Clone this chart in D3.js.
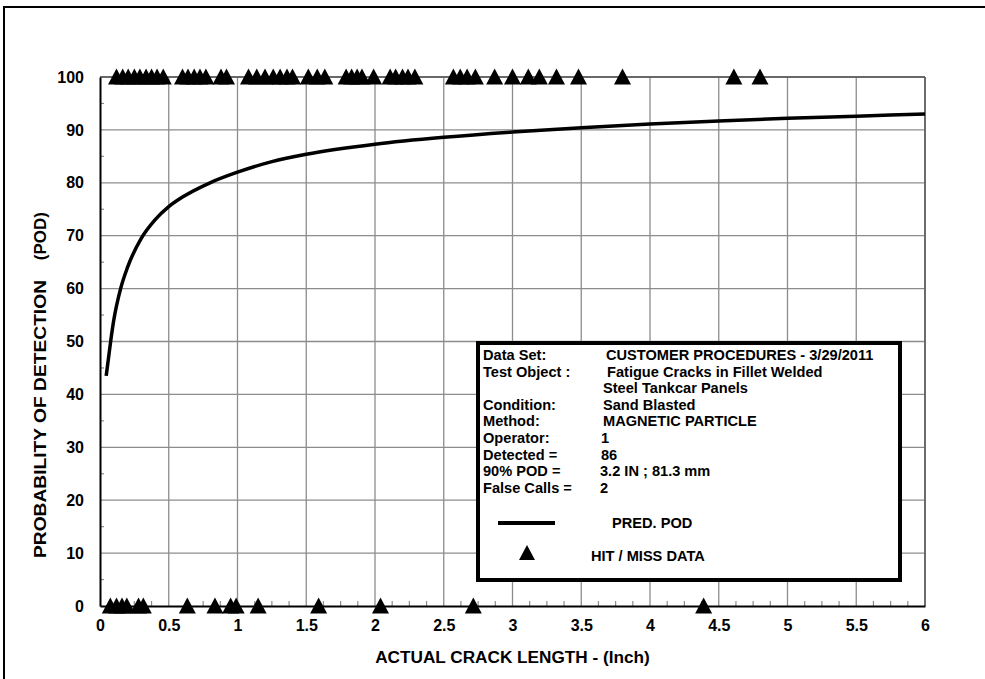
<!DOCTYPE html>
<html>
<head>
<meta charset="utf-8">
<script src="https://cdn.jsdelivr.net/npm/d3@7"></script>
<style>
  html, body { margin: 0; padding: 0; background: #fff; }
  svg { display: block; }
  text { font-family: "Liberation Sans", Arial, sans-serif; font-weight: bold; fill: #000; }
</style>
</head>
<body>
<svg id="chart" width="985" height="679"></svg>
<script>
// ---- data ----
const xTicks = [0, 0.5, 1, 1.5, 2, 2.5, 3, 3.5, 4, 4.5, 5, 5.5, 6];
const xTickLabels = ["0", "0.5", "1", "1.5", "2", "2.5", "3", "3.5", "4", "4.5", "5", "5.5", "6"];
const yTicks = [0, 10, 20, 30, 40, 50, 60, 70, 80, 90, 100];
const yMinorTicks = [5, 15, 25, 35, 45, 55, 65, 75, 85, 95];
const xMinorTicks = [0.125, 0.25, 0.375, 0.625, 0.75, 0.875, 1.125, 1.25, 1.375, 1.625, 1.75, 1.875,
  2.125, 2.25, 2.375, 2.625, 2.75, 2.875, 3.125, 3.25, 3.375, 3.625, 3.75, 3.875,
  4.125, 4.25, 4.375, 4.625, 4.75, 4.875, 5.125, 5.25, 5.375, 5.625, 5.75, 5.875];

// predicted POD curve
const curveX   = [0.045, 0.06, 0.08, 0.1, 0.15, 0.2, 0.3, 0.4, 0.5, 0.6, 0.8, 1.0, 1.25, 1.5, 2.0, 2.5, 3.0, 3.5, 4.0, 4.5, 5.0, 5.5, 6.0];
const curvePOD = [43.5, 46.5, 50.5, 54, 60, 64, 69.5, 73, 75.5, 77.3, 80, 82, 84, 85.4, 87.3, 88.6, 89.6, 90.4, 91.1, 91.7, 92.2, 92.6, 93.0];

// hits (detected, plotted at 100)
const hitX = [0.12, 0.165, 0.205, 0.25, 0.29, 0.335, 0.375, 0.415, 0.46,
  0.60, 0.64, 0.685, 0.727, 0.77, 0.88, 0.92,
  1.08, 1.14, 1.20, 1.26, 1.31, 1.36, 1.40,
  1.515, 1.58, 1.635,
  1.79, 1.83, 1.87, 1.905, 1.99,
  2.11, 2.15, 2.20, 2.24, 2.29,
  2.57, 2.62, 2.67, 2.73, 2.87, 3.0, 3.115, 3.195, 3.32, 3.48, 3.80, 4.61, 4.80];
// misses (plotted at 0)
const missX = [0.075, 0.12, 0.16, 0.195, 0.28, 0.315, 0.635, 0.836, 0.95, 0.99, 1.15, 1.59, 2.04, 2.715, 4.39];

const legendLabels = ["Data Set:", "Test Object :", "", "Condition:", "Method:", "Operator:", "Detected =", "90% POD =", "False Calls ="];
const legendValues = ["CUSTOMER PROCEDURES - 3/29/2011", "Fatigue Cracks in Fillet Welded", "Steel Tankcar Panels", "Sand Blasted", "MAGNETIC PARTICLE", "1", "86", "3.2 IN ; 81.3 mm", "2"];

// ---- drawing ----
const svg = d3.select("#chart");
const plot = { left: 100, right: 925, top: 77, bottom: 606 };
const x = d3.scaleLinear().domain([0, 6]).range([plot.left, plot.right]);
const y = d3.scaleLinear().domain([0, 100]).range([plot.bottom, plot.top]);

// outer frame
svg.append("rect").attr("x", 4).attr("y", 7).attr("width", 1000).attr("height", 700)
  .attr("fill", "none").attr("stroke", "#000").attr("stroke-width", 2);

const gridColor = "#8c8c8c";
// vertical grid
svg.append("g").selectAll("line").data(xTicks.slice(1)).join("line")
  .attr("x1", d => x(d)).attr("x2", d => x(d))
  .attr("y1", y(0)).attr("y2", y(100))
  .attr("stroke", gridColor).attr("stroke-width", 1.3);
// horizontal grid
svg.append("g").selectAll("line").data(yTicks.slice(1)).join("line")
  .attr("x1", x(0)).attr("x2", x(6))
  .attr("y1", d => y(d)).attr("y2", d => y(d))
  .attr("stroke", gridColor).attr("stroke-width", 1.3);
// top & right border darker
svg.append("line").attr("x1", x(0)).attr("x2", x(6)).attr("y1", y(100)).attr("y2", y(100))
  .attr("stroke", "#555").attr("stroke-width", 1.5);
svg.append("line").attr("x1", x(6)).attr("x2", x(6)).attr("y1", y(0)).attr("y2", y(100))
  .attr("stroke", "#555").attr("stroke-width", 1.5);

// minor ticks
svg.append("g").selectAll("line").data(yMinorTicks).join("line")
  .attr("x1", x(0)).attr("x2", x(0) + 4)
  .attr("y1", d => y(d)).attr("y2", d => y(d))
  .attr("stroke", gridColor).attr("stroke-width", 1.2);
svg.append("g").selectAll("line").data(xMinorTicks).join("line")
  .attr("x1", d => x(d)).attr("x2", d => x(d))
  .attr("y1", y(0)).attr("y2", y(0) - 5)
  .attr("stroke", gridColor).attr("stroke-width", 1.2);

// axes
const xAxis = d3.axisBottom(x).tickValues(xTicks).tickFormat((d, i) => xTickLabels[i]).tickSize(0).tickPadding(14);
const gx = svg.append("g").attr("transform", `translate(0,${plot.bottom})`).call(xAxis);
gx.select(".domain").attr("stroke", "#000").attr("stroke-width", 2);
gx.selectAll("text").style("font-size", "16px").style("font-family", "'Liberation Sans', Arial, sans-serif").style("font-weight", "bold");

const yAxis = d3.axisLeft(y).tickValues(yTicks).tickSize(0).tickPadding(16);
const gy = svg.append("g").attr("transform", `translate(${plot.left},0)`).call(yAxis);
gy.select(".domain").attr("stroke", "#000").attr("stroke-width", 2);
gy.selectAll("text").style("font-size", "16px").style("font-family", "'Liberation Sans', Arial, sans-serif").style("font-weight", "bold");

// axis titles
svg.append("text").attr("x", (plot.left + plot.right) / 2).attr("y", 663)
  .attr("text-anchor", "middle").style("font-size", "17.2px")
  .text("ACTUAL CRACK LENGTH - (Inch)");
svg.append("text").attr("transform", "translate(46,558) rotate(-90)")
  .attr("text-anchor", "start").style("font-size", "17px")
  .attr("textLength", 278).attr("lengthAdjust", "spacingAndGlyphs")
  .text("PROBABILITY OF DETECTION");
svg.append("text").attr("transform", "translate(46,212) rotate(-90)")
  .attr("text-anchor", "end").style("font-size", "17px")
  .text("(POD)");

// curve
const line = d3.line().x(d => x(d[0])).y(d => y(d[1])).curve(d3.curveMonotoneX);
svg.append("path").datum(curveX.map((v, i) => [v, curvePOD[i]]))
  .attr("d", line).attr("fill", "none").attr("stroke", "#000").attr("stroke-width", 3.5);

// triangles
const tri = "M0,-8.5L8.5,7.5L-8.5,7.5Z";
svg.append("g").selectAll("path").data(hitX).join("path")
  .attr("d", tri).attr("transform", d => `translate(${x(d)},${y(100)})`).attr("fill", "#000");
svg.append("g").selectAll("path").data(missX).join("path")
  .attr("d", tri).attr("transform", d => `translate(${x(d)},${y(0)})`).attr("fill", "#000");

// legend box
const lg = svg.append("g");
lg.append("rect").attr("x", 478).attr("y", 343).attr("width", 422).attr("height", 237)
  .attr("fill", "#fff").attr("stroke", "#000").attr("stroke-width", 4);
const valueX = [606, 607, 603, 603, 603, 601, 601, 600, 600];
legendLabels.forEach((t, i) => {
  lg.append("text").attr("x", 483).attr("y", 360 + i * 16.6).style("font-size", "14.6px").text(t);
  lg.append("text").attr("x", valueX[i]).attr("y", 360 + i * 16.6).style("font-size", "14.6px").text(legendValues[i]);
});
lg.append("line").attr("x1", 498).attr("x2", 555).attr("y1", 523).attr("y2", 523)
  .attr("stroke", "#000").attr("stroke-width", 4);
lg.append("text").attr("x", 612).attr("y", 528).style("font-size", "14.6px").text("PRED. POD");
lg.append("path").attr("d", "M0,-8L8,7L-8,7Z").attr("transform", "translate(527,553)").attr("fill", "#000");
lg.append("text").attr("x", 591).attr("y", 561).style("font-size", "14.6px").text("HIT / MISS DATA");
</script>
</body>
</html>
